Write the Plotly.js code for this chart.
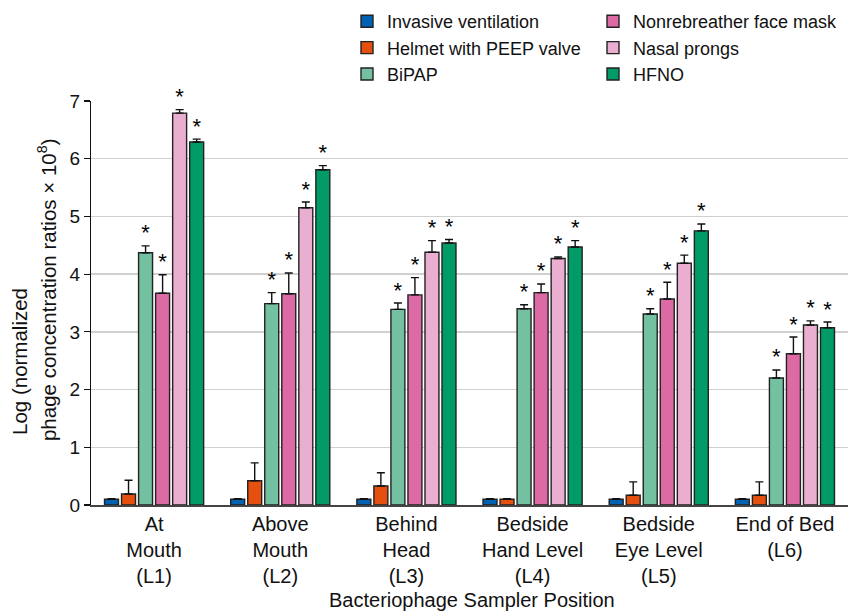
<!DOCTYPE html>
<html>
<head>
<meta charset="utf-8">
<script src="https://cdn.plot.ly/plotly-3.0.1.min.js"></script>
<style>html,body{margin:0;padding:0;background:#fff;}#chart{width:848px;height:612px;}</style>
</head>
<body>
<div id="chart"></div>
<script>
const categories = ['At<br>Mouth<br>(L1)', 'Above<br>Mouth<br>(L2)', 'Behind<br>Head<br>(L3)', 'Bedside<br>Hand Level<br>(L4)', 'Bedside<br>Eye Level<br>(L5)', 'End of Bed<br>(L6)'];
const seriesNames = ['Invasive ventilation', 'Helmet with PEEP valve', 'BiPAP', 'Nonrebreather face mask', 'Nasal prongs', 'HFNO'];
const invasive = [0.10, 0.10, 0.10, 0.10, 0.10, 0.10];
const invasiveErr = [0.01, 0.01, 0.01, 0.01, 0.01, 0.01];
const helmet = [0.19, 0.42, 0.33, 0.10, 0.17, 0.17];
const helmetErr = [0.24, 0.31, 0.23, 0.01, 0.23, 0.23];
const bipap = [4.37, 3.49, 3.39, 3.40, 3.31, 2.20];
const bipapErr = [0.12, 0.19, 0.11, 0.07, 0.09, 0.14];
const nrb = [3.67, 3.66, 3.64, 3.68, 3.57, 2.62];
const nrbErr = [0.32, 0.36, 0.30, 0.15, 0.29, 0.29];
const nasal = [6.79, 5.15, 4.38, 4.27, 4.19, 3.12];
const nasalErr = [0.06, 0.10, 0.20, 0.03, 0.14, 0.07];
const hfno = [6.29, 5.81, 4.54, 4.47, 4.75, 3.07];
const hfnoErr = [0.05, 0.07, 0.06, 0.11, 0.12, 0.10];
const significant = [false, false, true, true, true, true];
const yTicks = [0, 1, 2, 3, 4, 5, 6, 7];
const xTitle = 'Bacteriophage Sampler Position';
const yTitleLine1 = 'Log (normalized';
const yTitleLine2 = 'phage concentration ratios × 10<sup>8</sup>)';

const values = [invasive, helmet, bipap, nrb, nasal, hfno];
const errors = [invasiveErr, helmetErr, bipapErr, nrbErr, nasalErr, hfnoErr];
const colors = ['#0062B1', '#E5500F', '#73C1A0', '#DC6AA5', '#EAAED0', '#009B67'];
const FONT = 'Liberation Sans, Arial, Helvetica, sans-serif';

const traces = [];
values.forEach((v, i) => {
  traces.push({
    type: 'bar', name: seriesNames[i], x: categories, y: v,
    offsetgroup: String(i), alignmentgroup: 'a',
    legend: i < 3 ? 'legend' : 'legend2', legendgroup: 'g' + i,
    marker: {color: colors[i], line: {color: '#222', width: 1.4}},
    error_y: {type: 'data', symmetric: false, array: errors[i], arrayminus: v.map(() => 0),
              color: '#111', thickness: 1.4, width: 4},
    hoverinfo: 'skip'
  });
});
values.forEach((v, i) => {
  traces.push({
    type: 'scatter', mode: 'text', x: categories,
    y: v.map((val, j) => val + errors[i][j]),
    text: v.map(() => significant[i] ? '*' : ''),
    textposition: 'top center',
    textfont: {family: FONT, size: 22, color: '#000'},
    offsetgroup: String(i), alignmentgroup: 'a',
    cliponaxis: false, showlegend: false, hoverinfo: 'skip'
  });
});

const layout = {
  width: 848, height: 612,
  margin: {l: 91, r: 0, t: 101, b: 107, autoexpand: false},
  paper_bgcolor: '#fff', plot_bgcolor: '#fff',
  font: {family: FONT, size: 18, color: '#111'},
  barmode: 'group', bargap: 0.19, bargroupgap: 0.18,
  scattermode: 'group', scattergap: 0.19,
  showlegend: true,
  legend: {xref: 'container', yref: 'container', x: 347/848, y: 1 - 3/612, xanchor: 'left', yanchor: 'top',
           traceorder: 'grouped', tracegroupgap: 0, font: {size: 18, family: FONT, color: '#111'}, bgcolor: 'rgba(0,0,0,0)'},
  legend2: {xref: 'container', yref: 'container', x: 593/848, y: 1 - 3/612, xanchor: 'left', yanchor: 'top',
           traceorder: 'grouped', tracegroupgap: 0, font: {size: 18, family: FONT, color: '#111'}, bgcolor: 'rgba(0,0,0,0)'},
  xaxis: {
    type: 'category', showgrid: false, showline: true, linecolor: '#444', linewidth: 1.5,
    ticks: '', tickangle: 0, tickfont: {size: 20, family: FONT, color: '#111'},
    automargin: false, fixedrange: true
  },
  yaxis: {
    range: [0, 7], tickvals: yTicks, ticktext: yTicks.map(String),
    showgrid: true, gridcolor: '#d0d0d0', gridwidth: 1.5, zeroline: false,
    showline: true, linecolor: '#111', linewidth: 1.2,
    ticks: 'outside', ticklen: 6, tickcolor: '#111', tickwidth: 1.2,
    tickfont: {size: 19, family: FONT, color: '#111'},
    automargin: false, fixedrange: true
  },
  annotations: [
    {text: xTitle, xref: 'paper', yref: 'paper', x: 0.5, y: 0, xanchor: 'center', yanchor: 'middle',
     xshift: 2, yshift: -95, showarrow: false, font: {size: 20, family: FONT, color: '#111'}},
    {text: yTitleLine1, xref: 'paper', yref: 'paper', x: 0, y: 0.354, xanchor: 'center', yanchor: 'middle',
     xshift: -71, textangle: -90, showarrow: false, font: {size: 20.5, family: FONT, color: '#111'}},
    {text: yTitleLine2, xref: 'paper', yref: 'paper', x: 0, y: 0.532, xanchor: 'center', yanchor: 'middle',
     xshift: -44, textangle: -90, showarrow: false, font: {size: 20.5, family: FONT, color: '#111'}}
  ]
};

Plotly.newPlot('chart', traces, layout, {staticPlot: true, displayModeBar: false});
</script>
</body>
</html>
